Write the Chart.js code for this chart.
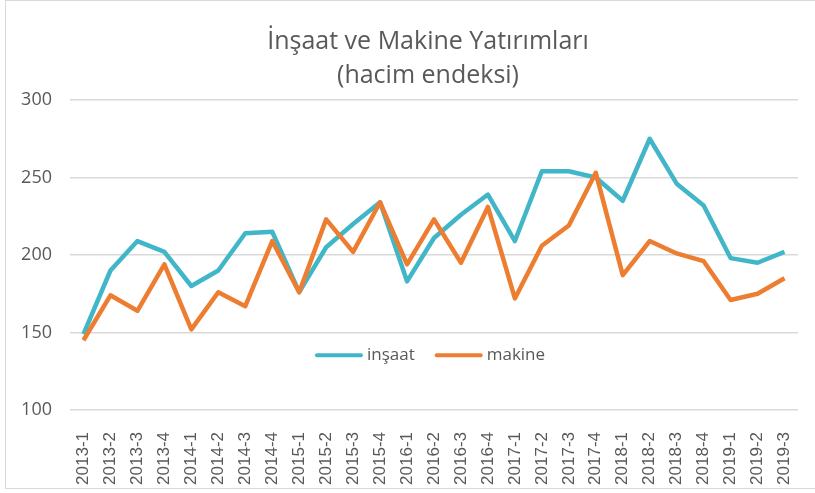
<!DOCTYPE html>
<html>
<head>
<meta charset="utf-8">
<script src="https://cdn.jsdelivr.net/npm/chart.js@4.4.1/dist/chart.umd.min.js"></script>
<style>
  html, body { margin: 0; padding: 0; background: #fff; }
  #wrap { width: 815px; height: 493px; }
</style>
</head>
<body>
<div id="wrap"><canvas id="yatirimChart" width="815" height="493"></canvas></div>
<script>
const quarters = ['2013-1','2013-2','2013-3','2013-4','2014-1','2014-2','2014-3','2014-4',
  '2015-1','2015-2','2015-3','2015-4','2016-1','2016-2','2016-3','2016-4',
  '2017-1','2017-2','2017-3','2017-4','2018-1','2018-2','2018-3','2018-4',
  '2019-1','2019-2','2019-3'];
const insaat = [149, 190, 209, 202, 180, 190, 214, 215, 176, 205, 220, 234, 183, 211, 226, 239,
  209, 254, 254, 250, 235, 275, 246, 232, 198, 195, 202];
const makine = [145, 174, 164, 194, 152, 176, 167, 209, 176, 223, 202, 234, 194, 223, 195, 231,
  172, 206, 219, 253, 187, 209, 201, 196, 171, 175, 185];
const titleLines = ['İnşaat ve Makine Yatırımları', '(hacim endeksi)'];
const seriesNames = ['inşaat', 'makine'];

const teal = '#41B6C9';
const orange = '#ED7D31';
const grey = '#595959';

// cerceve, baslik ve grafik icindeki lejant
const extras = {
  id: 'extras',
  beforeDraw(chart) {
    const c = chart.ctx;
    c.save();
    c.strokeStyle = '#d9d9d9';
    c.lineWidth = 1;
    c.strokeRect(5.5, 0.5, 830, 488);
    c.restore();
  },
  afterDraw(chart) {
    const c = chart.ctx;
    const area = chart.chartArea;
    c.save();
    c.fillStyle = grey;
    c.textAlign = 'center';
    c.textBaseline = 'middle';
    c.font = '25px "Open Sans"';
    c.fillText(titleLines[0], 428, 42);
    c.fillText(titleLines[1], 428, 76);

    c.font = '17px "Open Sans"';
    c.textAlign = 'left';
    const lineW = 48, gap = 4, itemGap = 20;
    const colors = [teal, orange];
    let total = 0;
    seriesNames.forEach((n, i) => {
      total += lineW + gap + c.measureText(n).width + (i ? 0 : itemGap);
    });
    let x = (area.left + area.right) / 2 - total / 2 - 4;
    const y = area.top + (area.bottom - area.top) * 0.823;
    seriesNames.forEach((n, i) => {
      c.strokeStyle = colors[i];
      c.lineWidth = 4;
      c.lineCap = 'round';
      c.beginPath();
      c.moveTo(x + 2, y);
      c.lineTo(x + lineW - 2, y);
      c.stroke();
      x += lineW + gap;
      c.fillText(n, x, y);
      x += c.measureText(n).width + itemGap;
    });
    c.restore();
  }
};

new Chart(document.getElementById('yatirimChart').getContext('2d'), {
  type: 'line',
  data: {
    labels: quarters,
    datasets: [
      {
        label: seriesNames[0],
        data: insaat,
        borderColor: teal,
        backgroundColor: teal,
        borderWidth: 4.5,
        pointRadius: 0,
        tension: 0,
        borderJoinStyle: 'round',
        order: 2
      },
      {
        label: seriesNames[1],
        data: makine,
        borderColor: orange,
        backgroundColor: orange,
        borderWidth: 4.5,
        pointRadius: 0,
        tension: 0,
        borderJoinStyle: 'round',
        order: 1
      }
    ]
  },
  options: {
    responsive: false,
    animation: false,
    layout: { padding: { top: 100, right: 17, left: 0, bottom: 0 } },
    scales: {
      x: {
        offset: true,
        grid: { display: false },
        border: { display: false },
        ticks: {
          minRotation: 90,
          maxRotation: 90,
          autoSkip: false,
          padding: 14,
          color: grey,
          font: { family: '"Liberation Sans", Arial', size: 17 }
        },
        afterFit(scale) {
          scale.height = 83;
          scale.paddingLeft = 0;
          scale.paddingRight = 0;
        }
      },
      y: {
        min: 100,
        max: 300,
        grid: { color: '#d9d9d9', lineWidth: 1.5, drawTicks: false },
        border: { display: false },
        ticks: {
          stepSize: 50,
          padding: 18,
          color: grey,
          font: { family: '"Open Sans"', size: 18 }
        },
        afterFit(scale) { scale.width = 70; }
      }
    },
    plugins: {
      legend: { display: false },
      title: { display: false },
      tooltip: { enabled: false }
    }
  },
  plugins: [extras]
});
</script>
</body>
</html>
